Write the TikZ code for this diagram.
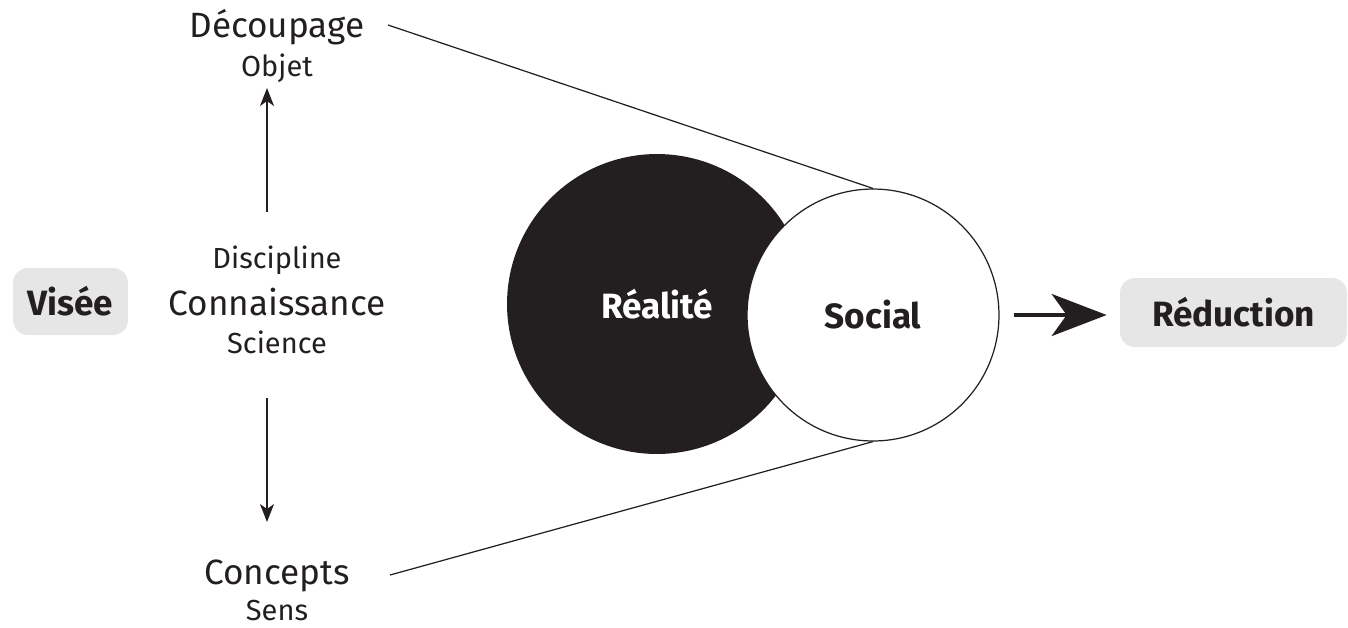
\documentclass[tikz,border=0pt]{standalone}
\usepackage{fontspec}
\setmainfont{Fira Sans}
\usetikzlibrary{arrows.meta}
\definecolor{ink}{HTML}{231F20}
\definecolor{boxgray}{HTML}{E6E6E6}
\begin{document}
\begin{tikzpicture}[x=0.02cm,y=-0.02cm,
   big/.style={anchor=base,inner sep=0pt,text=ink,font=\fontsize{20}{22}\selectfont},
   small/.style={anchor=base,inner sep=0pt,text=ink,font=\fontsize{16.5}{18}\selectfont},
   boldtxt/.style={inner sep=0pt,text=ink,font=\bfseries\fontsize{20}{22}\selectfont},
   tag/.style={boldtxt,fill=boxgray,rounded corners=0.3cm},
   thinarrow/.style={ink,line width=0.7pt,-{Stealth[length=0.36cm,width=0.28cm,inset=0.1cm]}}]
   \useasboundingbox (0,0) rectangle (1348,627);

   \node[tag,minimum width=2.3cm,minimum height=1.34cm] (visee) at (70.5,301.5) {Visée};
   \node[tag,minimum width=4.54cm,minimum height=1.38cm] (reduction) at (1233.5,312.5) {Réduction};

   \node[big] (decoupage) at (277,37) {Découpage};
   \node[small] (objet) at (277,76) {Objet};
   \node[small] (discipline) at (277,268) {Discipline};
   \node[big] (connaissance) at (277,315) {Connaissance};
   \node[small] (science) at (277,353) {Science};
   \node[big] (concepts) at (277,584) {Concepts};
   \node[small] (sens) at (277,620) {Sens};

   \coordinate (upfrom) at (267,212);
   \coordinate (upto) at (267,88);
   \coordinate (downfrom) at (267,398);
   \coordinate (downto) at (267,522);
   \draw[thinarrow] (upfrom) -- (upto);
   \draw[thinarrow] (downfrom) -- (downto);

   \node[circle,fill=ink,inner sep=0pt,minimum size=6cm,boldtxt,text=white] (realite) at (657,304) {Réalité};
   \node[circle,draw=ink,line width=0.7pt,fill=white,inner sep=0pt,minimum size=5.04cm,boldtxt] (social) at (873,315) {Social};

   \coordinate (dstart) at (388,25);
   \coordinate (cstart) at (390,575);
   \draw[ink,line width=0.7pt] (dstart) -- (social.north);
   \draw[ink,line width=0.7pt] (cstart) -- (social.south);

   \draw[ink,line width=2.3pt,shorten <=0.28cm,shorten >=0.26cm,-{Stealth[length=1.1cm,width=0.84cm,inset=0.3cm]}] (social.east) -- (social.east -| reduction.west);
\end{tikzpicture}
\end{document}
